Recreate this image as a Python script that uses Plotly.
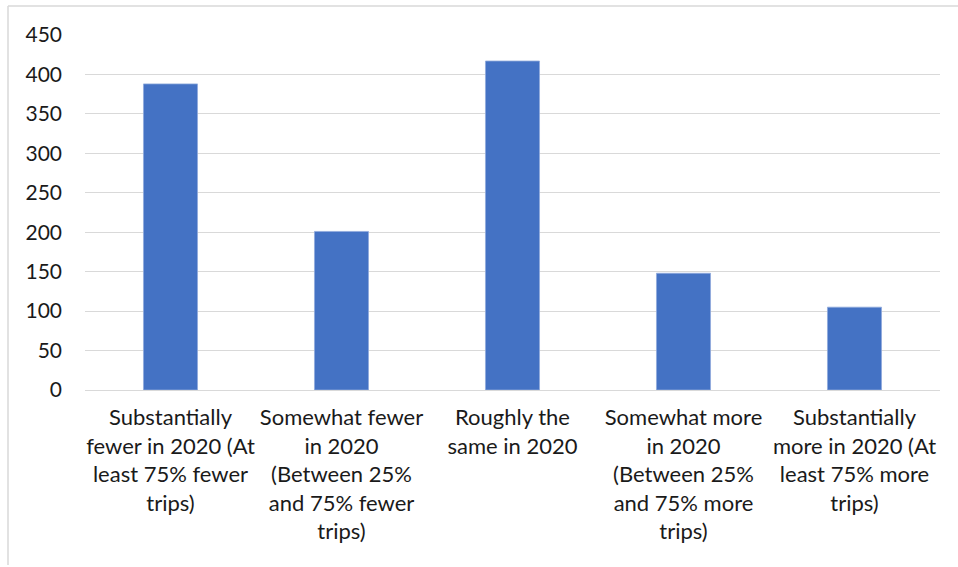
import plotly.graph_objects as go

categories = [
    "Substantially<br>fewer in 2020 (At<br>least 75% fewer<br>trips)",
    "Somewhat fewer<br>in 2020<br>(Between 25%<br>and 75% fewer<br>trips)",
    "Roughly the<br>same in 2020",
    "Somewhat more<br>in 2020<br>(Between 25%<br>and 75% more<br>trips)",
    "Substantially<br>more in 2020 (At<br>least 75% more<br>trips)",
]
values = [388, 201, 417, 148, 105]
y_ticks = [0, 50, 100, 150, 200, 250, 300, 350, 400, 450]

W, H = 958, 567
L, R, T, B = 85, 18, 35, 177

fig = go.Figure(go.Bar(
    x=categories, y=values,
    marker=dict(color="#4472C4", line=dict(color="#8faadc", width=0.8)),
    width=0.316,
))

pw = W - L - R
ph = H - T - B
x0 = (8 - L) / pw
y_top = 1 + (T - 6) / ph
y_bot = 1 - (565 - T) / ph
x_right = 1 + (W - L) / pw

fig.update_layout(
    width=W, height=H,
    margin=dict(l=L, r=R, t=T, b=B, autoexpand=False),
    plot_bgcolor="white", paper_bgcolor="white",
    font=dict(family="Lato, Open Sans, sans-serif", size=22, color="#1a1a1a"),
    showlegend=False,
    bargap=0.684,
    xaxis=dict(tickangle=0, showgrid=False, ticks="", showline=False,
               tickfont=dict(size=22), ticklabelstandoff=12),
    yaxis=dict(range=[0, 450], tickvals=y_ticks, showgrid=True, gridcolor="#d9d9d9",
               gridwidth=1.3, zeroline=True, zerolinecolor="#d9d9d9", zerolinewidth=1.3,
               ticks="", ticklabelstandoff=22, tickfont=dict(size=21)),
    shapes=[
        dict(type="line", xref="paper", yref="paper", x0=x0, x1=x0, y0=y_bot, y1=y_top,
             line=dict(color="#d9d9d9", width=1.5)),
        dict(type="line", xref="paper", yref="paper", x0=x0, x1=x_right, y0=y_top, y1=y_top,
             line=dict(color="#d9d9d9", width=1.5)),
    ],
)

fig.write_html("out.html", config={"displayModeBar": False},
               post_script="document.body.style.margin='0';document.body.style.padding='0';")
